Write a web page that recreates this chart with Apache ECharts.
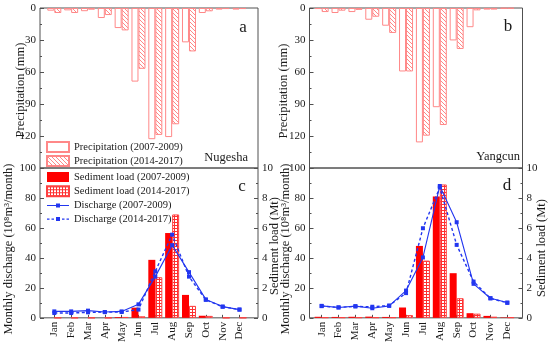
<!DOCTYPE html>
<html><head><meta charset="utf-8">
<script src="https://cdn.jsdelivr.net/npm/echarts@6/dist/echarts.min.js"></script>
<style>html,body{margin:0;padding:0;background:#fff}#c{width:550px;height:345px}</style>
</head><body><div id="c"></div>
<script>
// ---- data ----
const months = ['Jan','Feb','Mar','Apr','May','Jun','Jul','Aug','Sep','Oct','Nov','Dec'];
const monthNo = [1,2,3,4,5,6,7,8,9,10,11,12];
// Nugesha precipitation (mm)
const precipNug0709 = [2.5, 2.2, 3, 9.4, 18.8, 69, 123, 121, 32.2, 4.7, 1.5, 1.5];
const precipNug1417 = [4.7, 4.7, 1.6, 6.6, 21, 57, 119, 109, 40.7, 3.1, 1, 1];
// Yangcun precipitation (mm)
const precipYan0709 = [1, 4.7, 3.8, 11, 16.6, 59.5, 126, 93, 30.4, 18, 1.5, 0.5];
const precipYan1417 = [3.8, 2.5, 1.8, 8.2, 23.4, 59.5, 119.7, 109.7, 38.4, 2.2, 1.5, 0.5];
// Nugesha sediment load (Mt) and discharge (10^8 m3/month)
const sedNug0709 = [0, 0, 0, 0, 0.05, 0.68, 3.87, 5.66, 1.53, 0.14, 0, 0];
const sedNug1417 = [0, 0, 0, 0, 0.05, 0.1, 2.71, 6.9, 0.8, 0.13, 0, 0];
const disNug0709 = [4.3, 4.3, 4.8, 3.9, 4.3, 9, 27.5, 48.5, 30.5, 12.3, 7.5, 5.5];
const disNug1417 = [3.2, 3.2, 3.7, 3.8, 3.9, 5.5, 31, 55.5, 27.5, 12, 7.4, 5.5];
// Yangcun sediment load (Mt) and discharge
const sedYan0709 = [0.07, 0.06, 0.07, 0.08, 0.06, 0.69, 4.8, 8.1, 2.98, 0.31, 0.13, 0.03];
const sedYan1417 = [0.03, 0.03, 0.03, 0.03, 0.03, 0.18, 3.82, 8.9, 1.31, 0.28, 0.07, 0.03];
const disYan0709 = [8, 6.9, 7.8, 6.4, 8, 18.2, 40.3, 88, 63.8, 22.7, 13.1, 10.2];
const disYan1417 = [7.8, 7, 7.6, 7.4, 8.2, 16.5, 59.8, 87, 48.7, 24.2, 13, 10];

function pairs(v){ return v.map((y,i)=>[monthNo[i], y]); }

// ---- patterns ----
function hatch(color){
  const c=document.createElement('canvas'); c.width=4; c.height=4;
  const g=c.getContext('2d'); g.fillStyle='#fff'; g.fillRect(0,0,4,4);
  g.strokeStyle=color; g.lineWidth=1;
  g.beginPath(); g.moveTo(-1,-1); g.lineTo(5,5); g.moveTo(-1,3); g.lineTo(1,5); g.moveTo(3,-1); g.lineTo(5,1); g.stroke();
  return c;
}
function gridPat(color){
  const c=document.createElement('canvas'); c.width=3; c.height=3;
  const g=c.getContext('2d'); g.fillStyle='#fff'; g.fillRect(0,0,3,3);
  g.fillStyle=color; g.fillRect(0,0,3,1); g.fillRect(0,0,1,3);
  return c;
}
const pink='#ff8888', red='#ff0000', blue='#2236f0';
const font='Liberation Serif';
const hatchFill={image:hatch(pink), repeat:'repeat'};
const gridFill={image:gridPat('#ff3030'), repeat:'repeat'};
const solidIcon='path://M0,4.5H22V5.5H0Z M9,3H13V7H9Z';
const dotIcon='path://M0,4.4H2.5V5.6H0Z M4.5,4.4H7V5.6H4.5Z M9,3H13V7H9Z M15,4.4H17.5V5.6H15Z M19.5,4.4H22V5.6H19.5Z';

const frame={show:true, borderColor:'#505050', borderWidth:1, backgroundColor:'transparent'};
function xAx(g, mn, mx, labels){
  return {gridIndex:g, type:'value', min:mn, max:mx, axisLine:{show:false}, splitLine:{show:false},
    axisTick: labels ? {customValues:monthNo, inside:true, length:3, lineStyle:{color:'#505050'}} : {show:false},
    axisLabel: labels ? {customValues:monthNo, formatter:v=>months[v-1], rotate:90, margin:4, fontSize:11, fontFamily:font, color:'#1a1a1a'} : {show:false}};
}
function yAx(g, opt){
  return Object.assign({gridIndex:g, type:'value', axisLine:{show:false}, splitLine:{show:false},
    axisTick:{show:true, inside:true, length:4, lineStyle:{color:'#505050'}},
    minorTick:{show:true, splitNumber:2, length:2, lineStyle:{color:'#505050'}},
    axisLabel:{fontSize:11, fontFamily:font, color:'#1a1a1a', margin:4}}, opt);
}
const precipBar=(name, data, xi, yi, hatched)=>({type:'bar', name, xAxisIndex:xi, yAxisIndex:yi, data:pairs(data),
  barWidth:7, barGap:'0%', itemStyle:{color: hatched?hatchFill:'#ffffff', borderColor:pink, borderWidth:1}});
const sedBar=(name, data, xi, yi, grid)=>({type:'bar', name, xAxisIndex:xi, yAxisIndex:yi, data:pairs(data),
  barWidth:7, barGap:'0%', itemStyle: grid?{color:gridFill, borderColor:'#ff4040', borderWidth:1}:{color:red}});
const disLine=(name, data, xi, yi, dotted)=>({type:'line', name, xAxisIndex:xi, yAxisIndex:yi, data:pairs(data),
  symbol:'rect', symbolSize:4, itemStyle:{color:blue}, lineStyle:{color:blue, width:dotted?1.4:1.1, type:dotted?[3,2.5]:'solid'}, z:5});

const titleText=(text, x, y, rot, size, align)=>({type:'text', x, y, rotation:rot||0, z:10,
  style:{text, fontSize:size, fontFamily:font, fill:'#1a1a1a', align:align||'center', verticalAlign:'middle'}});

const legendText={fontSize:10.5, fontFamily:font, color:'#1a1a1a', lineHeight:11};
const option={
  animation:false,
  textStyle:{fontFamily:font},
  grid:[
    Object.assign({left:40, top:8, width:218, height:160}, frame),
    Object.assign({left:309.5, top:8, width:213, height:160}, frame),
    Object.assign({left:40, top:168, width:218, height:150}, frame),
    Object.assign({left:309.5, top:168, width:213, height:150}, frame)
  ],
  xAxis:[ xAx(0,0.15,13.1,false), xAx(1,0.28,12.9,false), xAx(2,0.15,13.1,true), xAx(3,0.28,12.9,true) ],
  yAxis:[
    yAx(0,{inverse:true, min:0, max:150, interval:30, axisLabel:{fontSize:11, fontFamily:font, color:'#1a1a1a', margin:4, formatter:v=>v===150?'':String(v)}}),
    yAx(1,{inverse:true, min:0, max:150, interval:30, axisLabel:{fontSize:11, fontFamily:font, color:'#1a1a1a', margin:4, formatter:v=>v===150?'':String(v)}}),
    yAx(2,{min:0, max:100, interval:20}),
    yAx(2,{min:0, max:10, interval:2, position:'right'}),
    yAx(3,{min:0, max:100, interval:20}),
    yAx(3,{min:0, max:10, interval:2, position:'right'})
  ],
  legend:[
    {left:46, top:141, orient:'vertical', itemWidth:22, itemHeight:10, itemGap:2, padding:0,
     textStyle:legendText,
     data:[{name:'Precipitation (2007-2009)', icon:'rect'},{name:'Precipitation (2014-2017)', icon:'rect'}]},
    {left:46, top:171.5, orient:'vertical', itemWidth:22, itemHeight:10, itemGap:2.7, padding:0,
     textStyle:legendText,
     data:[{name:'Sediment load (2007-2009)', icon:'rect'},{name:'Sediment load (2014-2017)', icon:'rect'},
           {name:'Discharge (2007-2009)', icon:solidIcon},{name:'Discharge (2014-2017)', icon:dotIcon}]}
  ],
  series:[
    precipBar('Precipitation (2007-2009)', precipNug0709, 0, 0, false),
    precipBar('Precipitation (2014-2017)', precipNug1417, 0, 0, true),
    precipBar('Precipitation (2007-2009)', precipYan0709, 1, 1, false),
    precipBar('Precipitation (2014-2017)', precipYan1417, 1, 1, true),
    sedBar('Sediment load (2007-2009)', sedNug0709, 2, 3, false),
    sedBar('Sediment load (2014-2017)', sedNug1417, 2, 3, true),
    sedBar('Sediment load (2007-2009)', sedYan0709, 3, 5, false),
    sedBar('Sediment load (2014-2017)', sedYan1417, 3, 5, true),
    disLine('Discharge (2007-2009)', disNug0709, 2, 2, false),
    disLine('Discharge (2014-2017)', disNug1417, 2, 2, true),
    disLine('Discharge (2007-2009)', disYan0709, 3, 4, false),
    disLine('Discharge (2014-2017)', disYan1417, 3, 4, true)
  ],
  graphic:[
    titleText('Precipitation (mm)', 21, 90, Math.PI/2, 12.5),
    titleText('Precipitation (mm)', 284, 91, Math.PI/2, 12.5),
    titleText('Monthly discharge (10⁸m³/month)', 9, 249, Math.PI/2, 12.5),
    titleText('Sediment load (Mt)', 275, 246, Math.PI/2, 12.5),
    titleText('Monthly discharge (10⁸m³/month)', 286, 249, Math.PI/2, 12.5),
    titleText('Sediment load (Mt)', 542, 248, Math.PI/2, 12.5),
    titleText('a', 243, 28, 0, 17),
    titleText('b', 508, 27, 0, 17),
    titleText('c', 242, 187, 0, 17),
    titleText('d', 507, 186, 0, 17),
    titleText('Nugesha', 248, 158, 0, 12.5, 'right'),
    titleText('Yangcun', 520, 157, 0, 12.5, 'right')
  ]
};
const chart=echarts.init(document.getElementById('c'), null, {renderer:'canvas'});
chart.setOption(option);
</script></body></html>
